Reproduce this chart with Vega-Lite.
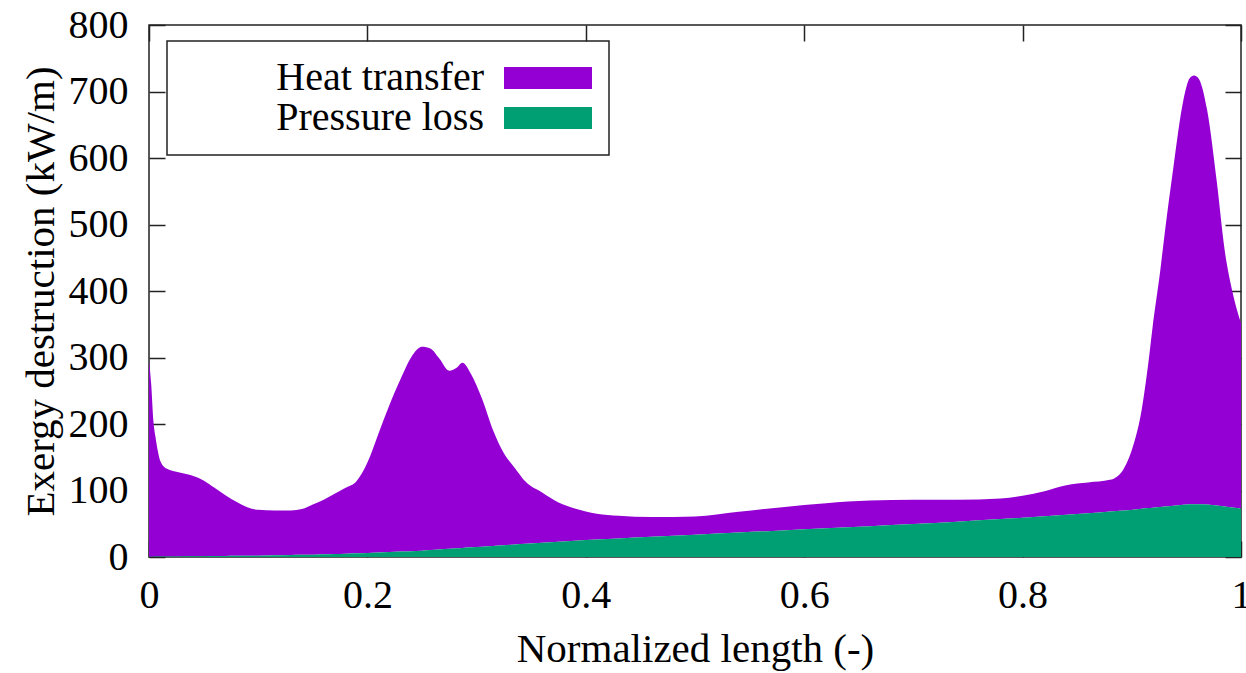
{
  "$schema": "https://vega.github.io/schema/vega-lite/v6.json",
  "width": 1092,
  "height": 532,
  "autosize": {"type": "none"},
  "padding": {"left": 149, "top": 25, "right": 5, "bottom": 116},
  "background": "white",
  "config": {
    "view": {"stroke": "#222", "strokeWidth": 1.5},
    "font": "Liberation Serif",
    "axis": {"labelColor": "black", "titleColor": "black", "titleFontWeight": "normal", "grid": false, "domain": false, "tickColor": "#222", "tickWidth": 1.5},
    "legend": {"labelFont": "Liberation Serif"}
  },
  "data": {"values": [
    {"x": 0.000, "heat": 295.5, "pressure": 0.5},
    {"x": 0.002, "heat": 259.5, "pressure": 0.5},
    {"x": 0.004, "heat": 204.5, "pressure": 0.5},
    {"x": 0.006, "heat": 179.4, "pressure": 0.6},
    {"x": 0.008, "heat": 159.4, "pressure": 0.6},
    {"x": 0.010, "heat": 145.3, "pressure": 0.7},
    {"x": 0.016, "heat": 132.3, "pressure": 0.7},
    {"x": 0.028, "heat": 126.1, "pressure": 0.9},
    {"x": 0.040, "heat": 120.9, "pressure": 1.1},
    {"x": 0.050, "heat": 113.8, "pressure": 1.2},
    {"x": 0.060, "heat": 102.6, "pressure": 1.4},
    {"x": 0.070, "heat": 91.5, "pressure": 1.5},
    {"x": 0.080, "heat": 81.3, "pressure": 1.7},
    {"x": 0.090, "heat": 73.2, "pressure": 1.8},
    {"x": 0.100, "heat": 69.0, "pressure": 2.0},
    {"x": 0.115, "heat": 67.5, "pressure": 2.5},
    {"x": 0.130, "heat": 67.1, "pressure": 2.9},
    {"x": 0.140, "heat": 68.8, "pressure": 3.2},
    {"x": 0.150, "heat": 75.5, "pressure": 3.5},
    {"x": 0.160, "heat": 82.0, "pressure": 4.0},
    {"x": 0.170, "heat": 90.5, "pressure": 4.5},
    {"x": 0.180, "heat": 99.0, "pressure": 5.0},
    {"x": 0.190, "heat": 108.5, "pressure": 5.5},
    {"x": 0.200, "heat": 136.0, "pressure": 6.0},
    {"x": 0.210, "heat": 178.3, "pressure": 6.7},
    {"x": 0.220, "heat": 220.6, "pressure": 7.4},
    {"x": 0.230, "heat": 257.9, "pressure": 8.1},
    {"x": 0.240, "heat": 291.2, "pressure": 8.8},
    {"x": 0.250, "heat": 306.5, "pressure": 9.5},
    {"x": 0.258, "heat": 302.6, "pressure": 10.4},
    {"x": 0.266, "heat": 286.7, "pressure": 11.3},
    {"x": 0.275, "heat": 267.7, "pressure": 12.3},
    {"x": 0.282, "heat": 272.0, "pressure": 13.0},
    {"x": 0.287, "heat": 278.4, "pressure": 13.6},
    {"x": 0.295, "heat": 260.5, "pressure": 14.5},
    {"x": 0.305, "heat": 222.4, "pressure": 15.6},
    {"x": 0.315, "heat": 174.3, "pressure": 16.7},
    {"x": 0.325, "heat": 138.2, "pressure": 17.8},
    {"x": 0.335, "heat": 115.1, "pressure": 18.9},
    {"x": 0.345, "heat": 93.0, "pressure": 20.0},
    {"x": 0.360, "heat": 75.5, "pressure": 21.5},
    {"x": 0.375, "heat": 59.0, "pressure": 23.0},
    {"x": 0.390, "heat": 48.5, "pressure": 24.5},
    {"x": 0.410, "heat": 38.7, "pressure": 26.3},
    {"x": 0.430, "heat": 34.1, "pressure": 27.9},
    {"x": 0.460, "heat": 29.7, "pressure": 30.3},
    {"x": 0.500, "heat": 27.5, "pressure": 33.5},
    {"x": 0.540, "heat": 31.3, "pressure": 36.7},
    {"x": 0.580, "heat": 35.1, "pressure": 39.9},
    {"x": 0.620, "heat": 37.9, "pressure": 43.1},
    {"x": 0.660, "heat": 38.7, "pressure": 46.3},
    {"x": 0.700, "heat": 36.5, "pressure": 49.5},
    {"x": 0.740, "heat": 32.9, "pressure": 53.1},
    {"x": 0.780, "heat": 31.0, "pressure": 57.0},
    {"x": 0.800, "heat": 33.0, "pressure": 59.0},
    {"x": 0.820, "heat": 37.8, "pressure": 61.2},
    {"x": 0.840, "heat": 44.6, "pressure": 63.4},
    {"x": 0.860, "heat": 46.2, "pressure": 65.8},
    {"x": 0.880, "heat": 47.6, "pressure": 68.4},
    {"x": 0.892, "heat": 61.0, "pressure": 70.0},
    {"x": 0.901, "heat": 94.8, "pressure": 71.2},
    {"x": 0.909, "heat": 148.5, "pressure": 72.5},
    {"x": 0.915, "heat": 216.5, "pressure": 73.5},
    {"x": 0.919, "heat": 270.8, "pressure": 74.2},
    {"x": 0.926, "heat": 354.7, "pressure": 75.3},
    {"x": 0.930, "heat": 409.0, "pressure": 76.0},
    {"x": 0.938, "heat": 507.8, "pressure": 77.2},
    {"x": 0.947, "heat": 606.4, "pressure": 78.6},
    {"x": 0.953, "heat": 640.8, "pressure": 79.2},
    {"x": 0.957, "heat": 644.6, "pressure": 79.4},
    {"x": 0.961, "heat": 640.5, "pressure": 79.5},
    {"x": 0.969, "heat": 592.9, "pressure": 79.1},
    {"x": 0.978, "heat": 484.6, "pressure": 77.4},
    {"x": 0.985, "heat": 386.0, "pressure": 76.0},
    {"x": 0.992, "heat": 325.4, "pressure": 74.6},
    {"x": 1.000, "heat": 279.0, "pressure": 73.0}
  ]},
  "transform": [
    {"fold": ["heat", "pressure"], "as": ["key", "value"]},
    {"lookup": "key", "from": {"data": {"values": [
      {"key": "heat", "series": "Heat transfer"},
      {"key": "pressure", "series": "Pressure loss"}
    ]}, "key": "key", "fields": ["series"]}}
  ],
  "resolve": {"axis": {"x": "independent", "y": "independent"}},
  "layer": [
    {
      "mark": {"type": "area", "interpolate": "monotone"},
      "encoding": {
        "x": {"field": "x", "type": "quantitative", "scale": {"domain": [0, 1], "nice": false},
          "axis": {"orient": "bottom", "values": [0, 0.2, 0.4, 0.6, 0.8, 1], "format": "~g", "title": "Normalized length (-)", "labelFont": "Liberation Serif", "titleFont": "Liberation Serif", "labelFontSize": 40, "titleFontSize": 41, "tickSize": -16, "labelPadding": 34, "titlePadding": 14, "labelFlush": false}},
        "y": {"field": "value", "type": "quantitative", "stack": "zero", "scale": {"domain": [0, 800], "nice": false},
          "axis": {"orient": "left", "values": [0, 100, 200, 300, 400, 500, 600, 700, 800], "format": "d", "title": "Exergy destruction (kW/m)", "labelFont": "Liberation Serif", "titleFont": "Liberation Serif", "labelFontSize": 40, "titleFontSize": 41, "tickSize": -16, "labelPadding": 37, "titlePadding": 6}},
        "color": {"field": "series", "type": "nominal",
          "scale": {"domain": ["Heat transfer", "Pressure loss"], "range": ["#9400D3", "#009E73"]},
          "legend": {"title": null, "orient": "none", "legendX": 18, "legendY": 16, "strokeColor": "#222", "padding": 17,
            "symbolType": "M-4,-1L4,-1L4,1L-4,1Z", "symbolSize": 484, "symbolStrokeWidth": 0, "symbolOpacity": 1,
            "symbolOffset": 344, "labelAlign": "right", "labelOffset": -84, "labelFont": "Liberation Serif", "labelFontSize": 40, "labelColor": "black", "rowPadding": 0, "labelLimit": 400,
            "encode": {"legend": {"update": {"strokeWidth": {"value": 1.5}}}}}},
        "order": {"field": "series", "sort": "descending"}
      }
    },
    {
      "mark": {"type": "point", "opacity": 0},
      "encoding": {
        "x": {"field": "x", "type": "quantitative", "axis": {"orient": "top", "values": [0, 0.2, 0.4, 0.6, 0.8, 1], "labels": false, "title": null, "tickSize": -16}},
        "y": {"field": "value", "type": "quantitative", "axis": {"orient": "right", "values": [0, 100, 200, 300, 400, 500, 600, 700, 800], "labels": false, "title": null, "tickSize": -16}}
      }
    }
  ]
}
